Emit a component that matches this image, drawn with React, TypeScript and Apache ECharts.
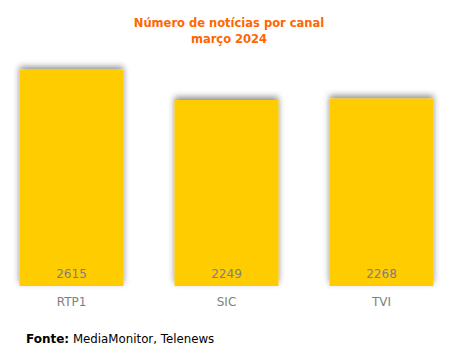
import React, { useEffect, useRef } from "react";
import * as echarts from "echarts";

const categories = ["RTP1", "SIC", "TVI"];
const values = [2615, 2249, 2268];
const titleLines = ["Número de notícias por canal", "março 2024"];
const sourceLabel = "Fonte:";
const sourceText = " MediaMonitor, Telenews";

const SHIFT = 6;

export default function App() {
  const ref = useRef<HTMLDivElement>(null);
  useEffect(() => {
    const chart = echarts.init(ref.current!, null, { renderer: "svg" });
    chart.setOption({
      animation: false,
      title: {
        text: titleLines.join("\n"),
        left: 224 + SHIFT,
        textAlign: "center",
        top: 10,
        textStyle: {
          color: "#FF6600",
          fontFamily: "DejaVu Sans",
          fontWeight: "bold",
          fontSize: 11.5,
          lineHeight: 16,
        },
      },
      grid: { left: 0, right: 0, top: 38, bottom: 71, containLabel: false },
      xAxis: {
        type: "category",
        data: categories,
        axisLine: { show: false },
        axisTick: { show: false },
        axisLabel: {
          color: "#808080",
          fontFamily: "DejaVu Sans",
          fontSize: 12,
          margin: 10,
        },
      },
      yAxis: {
        type: "value",
        min: 0,
        max: 3000,
        show: false,
        splitLine: { show: false },
      },
      series: [
        {
          type: "bar",
          data: values,
          barWidth: 104,
          itemStyle: {
            color: "#FFCC00",
            shadowColor: "rgba(0,0,0,0.45)",
            shadowBlur: 6,
            shadowOffsetY: -3,
          },
          label: {
            show: true,
            position: "insideBottom",
            distance: 6,
            color: "#808080",
            fontFamily: "DejaVu Sans",
            fontSize: 12,
          },
        },
      ],
      graphic: [
        {
          type: "text",
          left: 26 + SHIFT,
          top: 333,
          style: {
            rich: {
              b: { fontWeight: "bold", fontSize: 12, fontFamily: "DejaVu Sans", fill: "#000" },
              n: { fontSize: 11.8, fontFamily: "DejaVu Sans", fill: "#000" },
            },
            text: `{b|${sourceLabel}}{n|${sourceText}}`,
          },
        },
      ],
    });
    return () => chart.dispose();
  }, []);
  return (
    <div style={{ width: 451, height: 357, margin: -8, overflow: "hidden", position: "relative" }}>
      <div ref={ref} style={{ position: "absolute", left: -SHIFT, top: 0, width: 465, height: 357 }} />
    </div>
  );
}
